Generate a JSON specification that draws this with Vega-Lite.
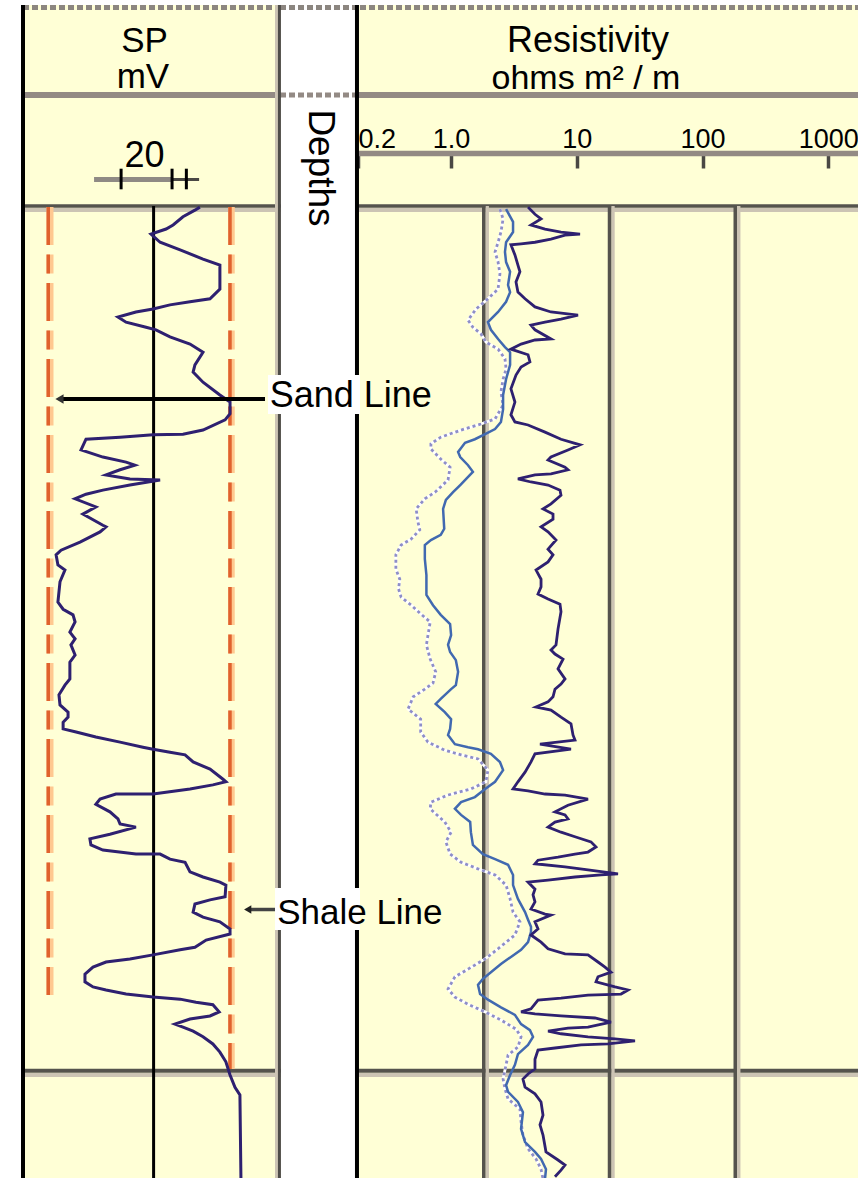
{
"$schema": "https://vega.github.io/schema/vega-lite/v6.json",
"background": "white",
"padding": {"left": 18, "top": 3, "right": 0, "bottom": 0},
"spacing": 0,
"bounds": "flush",
"config": {"view": {"stroke": null}, "text": {"font": "Liberation Sans"}, "axis": {"labelFont": "Liberation Sans"}},
"resolve": {"scale": {"x": "independent", "y": "independent"}},
"datasets": {
"sp": [
{"sp":17.8,"depth":4979.2},{"sp":15.9,"depth":4979.8},{"sp":11.3,"depth":4981.1},{"sp":7.5,"depth":4982.7},{"sp":4.8,"depth":4983.5},{"sp":-1.0,"depth":4984.5},{"sp":2.5,"depth":4986.1},{"sp":10.2,"depth":4987.6},{"sp":19.0,"depth":4989.4},{"sp":25.5,"depth":4990.6},{"sp":25.5,"depth":4995.3},{"sp":21.7,"depth":4997.2},{"sp":14.0,"depth":4997.8},{"sp":6.3,"depth":4998.4},{"sp":-0.2,"depth":4999.2},{"sp":-6.8,"depth":4999.8},{"sp":-13.7,"depth":5000.8},{"sp":-10.6,"depth":5001.8},{"sp":-2.9,"depth":5002.8},{"sp":0.9,"depth":5003.3},{"sp":6.3,"depth":5004.7},{"sp":14.0,"depth":5006.1},{"sp":19.0,"depth":5007.7},{"sp":15.9,"depth":5010.2},{"sp":15.2,"depth":5011.6},{"sp":19.0,"depth":5013.6},{"sp":25.5,"depth":5016.1},{"sp":29.4,"depth":5017.5},{"sp":29.4,"depth":5019.8},{"sp":27.5,"depth":5021.0},{"sp":19.0,"depth":5023.0},{"sp":11.3,"depth":5023.8},{"sp":-0.2,"depth":5023.9},{"sp":-12.9,"depth":5024.4},{"sp":-26.0,"depth":5024.8},{"sp":-27.9,"depth":5026.9},{"sp":-19.5,"depth":5028.3},{"sp":-10.6,"depth":5029.3},{"sp":-7.2,"depth":5029.9},{"sp":-12.9,"depth":5030.8},{"sp":-18.3,"depth":5031.8},{"sp":-9.1,"depth":5032.6},{"sp":2.5,"depth":5032.8},{"sp":-9.1,"depth":5033.8},{"sp":-19.5,"depth":5034.8},{"sp":-26.0,"depth":5035.6},{"sp":-30.2,"depth":5036.5},{"sp":-22.2,"depth":5038.1},{"sp":-27.2,"depth":5039.5},{"sp":-19.5,"depth":5041.7},{"sp":-18.3,"depth":5042.0},{"sp":-20.6,"depth":5043.0},{"sp":-28.3,"depth":5045.0},{"sp":-35.6,"depth":5046.6},{"sp":-37.5,"depth":5047.5},{"sp":-36.8,"depth":5049.5},{"sp":-34.1,"depth":5050.5},{"sp":-36.0,"depth":5052.8},{"sp":-36.8,"depth":5056.8},{"sp":-34.8,"depth":5058.2},{"sp":-31.0,"depth":5059.3},{"sp":-30.2,"depth":5060.7},{"sp":-32.2,"depth":5062.7},{"sp":-30.2,"depth":5064.0},{"sp":-31.8,"depth":5065.2},{"sp":-30.2,"depth":5067.2},{"sp":-32.2,"depth":5068.6},{"sp":-32.2,"depth":5071.9},{"sp":-34.1,"depth":5073.1},{"sp":-36.4,"depth":5075.0},{"sp":-36.0,"depth":5077.0},{"sp":-32.9,"depth":5078.4},{"sp":-32.9,"depth":5079.4},{"sp":-34.8,"depth":5080.4},{"sp":-34.8,"depth":5081.7},{"sp":-29.8,"depth":5082.3},{"sp":-22.2,"depth":5083.3},{"sp":-12.9,"depth":5084.3},{"sp":-4.1,"depth":5085.3},{"sp":-0.2,"depth":5085.7},{"sp":6.3,"depth":5086.3},{"sp":12.1,"depth":5086.8},{"sp":15.2,"depth":5088.2},{"sp":21.7,"depth":5089.6},{"sp":26.7,"depth":5091.6},{"sp":27.8,"depth":5092.1},{"sp":22.8,"depth":5092.7},{"sp":14.0,"depth":5093.5},{"sp":-0.2,"depth":5094.5},{"sp":-14.5,"depth":5094.5},{"sp":-20.6,"depth":5095.5},{"sp":-22.2,"depth":5096.5},{"sp":-16.8,"depth":5098.0},{"sp":-13.7,"depth":5099.4},{"sp":-12.9,"depth":5100.4},{"sp":-6.8,"depth":5101.0},{"sp":-16.8,"depth":5102.4},{"sp":-24.5,"depth":5103.3},{"sp":-24.1,"depth":5104.5},{"sp":-19.5,"depth":5105.5},{"sp":-6.8,"depth":5106.3},{"sp":2.5,"depth":5106.3},{"sp":6.3,"depth":5107.3},{"sp":12.1,"depth":5107.9},{"sp":14.0,"depth":5109.8},{"sp":19.0,"depth":5110.8},{"sp":25.5,"depth":5111.8},{"sp":27.8,"depth":5112.4},{"sp":27.5,"depth":5114.7},{"sp":21.7,"depth":5115.3},{"sp":15.9,"depth":5116.1},{"sp":15.2,"depth":5117.7},{"sp":19.0,"depth":5118.7},{"sp":25.5,"depth":5119.6},{"sp":29.4,"depth":5121.0},{"sp":29.4,"depth":5122.0},{"sp":20.2,"depth":5123.2},{"sp":15.9,"depth":5124.6},{"sp":10.2,"depth":5125.1},{"sp":-0.2,"depth":5126.1},{"sp":-9.1,"depth":5126.9},{"sp":-18.3,"depth":5127.5},{"sp":-23.3,"depth":5128.5},{"sp":-26.4,"depth":5129.9},{"sp":-26.4,"depth":5131.4},{"sp":-23.3,"depth":5132.4},{"sp":-18.3,"depth":5133.0},{"sp":-10.6,"depth":5133.8},{"sp":-0.2,"depth":5134.4},{"sp":10.2,"depth":5134.8},{"sp":16.3,"depth":5135.4},{"sp":22.8,"depth":5135.9},{"sp":25.2,"depth":5137.3},{"sp":21.7,"depth":5138.1},{"sp":14.0,"depth":5138.7},{"sp":8.2,"depth":5139.7},{"sp":11.3,"depth":5140.3},{"sp":15.2,"depth":5141.1},{"sp":19.0,"depth":5142.2},{"sp":22.8,"depth":5143.6},{"sp":25.5,"depth":5145.2},{"sp":27.8,"depth":5147.1},{"sp":29.4,"depth":5149.7},{"sp":31.3,"depth":5152.1},{"sp":33.2,"depth":5153.6},{"sp":33.6,"depth":5170.3}
],
"shallow": [
{"res":4.50,"depth":4979.2},{"res":5.11,"depth":4980.6},{"res":5.71,"depth":4981.5},{"res":4.75,"depth":4982.7},{"res":6.14,"depth":4983.5},{"res":8.23,"depth":4984.1},{"res":11.66,"depth":4984.5},{"res":8.86,"depth":4984.7},{"res":6.85,"depth":4985.5},{"res":5.11,"depth":4986.1},{"res":3.96,"depth":4986.4},{"res":3.29,"depth":4986.6},{"res":3.54,"depth":4988.6},{"res":3.74,"depth":4990.6},{"res":3.88,"depth":4991.9},{"res":3.61,"depth":4993.9},{"res":3.74,"depth":4995.9},{"res":4.26,"depth":4997.2},{"res":5.11,"depth":4998.8},{"res":6.85,"depth":4999.8},{"res":11.24,"depth":5000.4},{"res":8.23,"depth":5001.2},{"res":6.14,"depth":5001.8},{"res":4.75,"depth":5002.4},{"res":5.11,"depth":5003.3},{"res":6.85,"depth":5005.1},{"res":5.11,"depth":5005.3},{"res":3.96,"depth":5006.1},{"res":3.29,"depth":5007.1},{"res":4.50,"depth":5008.2},{"res":4.66,"depth":5009.6},{"res":3.96,"depth":5010.6},{"res":3.61,"depth":5012.2},{"res":3.29,"depth":5014.9},{"res":3.54,"depth":5017.5},{"res":3.29,"depth":5020.0},{"res":3.54,"depth":5021.4},{"res":4.50,"depth":5022.0},{"res":6.14,"depth":5023.4},{"res":8.23,"depth":5024.8},{"res":11.66,"depth":5025.9},{"res":9.35,"depth":5026.9},{"res":6.85,"depth":5028.3},{"res":6.49,"depth":5028.9},{"res":8.86,"depth":5030.3},{"res":9.35,"depth":5030.8},{"res":6.85,"depth":5031.6},{"res":5.11,"depth":5031.8},{"res":3.74,"depth":5032.6},{"res":4.75,"depth":5033.2},{"res":6.49,"depth":5033.8},{"res":8.08,"depth":5034.8},{"res":8.23,"depth":5035.8},{"res":6.85,"depth":5037.5},{"res":5.92,"depth":5038.5},{"res":7.11,"depth":5039.5},{"res":7.11,"depth":5040.5},{"res":5.71,"depth":5042.0},{"res":6.49,"depth":5043.0},{"res":7.51,"depth":5044.6},{"res":6.49,"depth":5046.4},{"res":7.11,"depth":5047.5},{"res":6.49,"depth":5048.9},{"res":5.21,"depth":5050.5},{"res":5.71,"depth":5052.3},{"res":5.71,"depth":5053.8},{"res":5.40,"depth":5055.2},{"res":6.49,"depth":5056.2},{"res":8.08,"depth":5057.2},{"res":8.23,"depth":5058.7},{"res":7.79,"depth":5062.1},{"res":7.51,"depth":5065.2},{"res":6.85,"depth":5066.2},{"res":7.37,"depth":5067.0},{"res":8.54,"depth":5068.0},{"res":7.79,"depth":5069.9},{"res":8.86,"depth":5071.9},{"res":8.23,"depth":5072.9},{"res":7.37,"depth":5073.9},{"res":7.11,"depth":5075.4},{"res":6.49,"depth":5076.4},{"res":5.21,"depth":5077.4},{"res":6.85,"depth":5078.0},{"res":8.23,"depth":5079.4},{"res":9.88,"depth":5080.7},{"res":10.25,"depth":5082.9},{"res":10.63,"depth":5083.9},{"res":5.60,"depth":5084.7},{"res":9.88,"depth":5085.7},{"res":5.11,"depth":5086.6},{"res":4.75,"depth":5088.2},{"res":4.26,"depth":5090.2},{"res":3.74,"depth":5092.1},{"res":3.42,"depth":5093.5},{"res":4.50,"depth":5093.9},{"res":6.14,"depth":5094.5},{"res":8.86,"depth":5094.7},{"res":13.49,"depth":5095.5},{"res":9.35,"depth":5096.7},{"res":7.37,"depth":5098.0},{"res":8.86,"depth":5098.6},{"res":9.35,"depth":5099.4},{"res":7.37,"depth":5100.0},{"res":6.49,"depth":5101.0},{"res":8.23,"depth":5102.0},{"res":10.63,"depth":5102.9},{"res":14.25,"depth":5103.9},{"res":15.62,"depth":5104.9},{"res":13.49,"depth":5105.9},{"res":10.63,"depth":5106.3},{"res":7.79,"depth":5106.9},{"res":5.40,"depth":5107.5},{"res":5.11,"depth":5108.2},{"res":8.86,"depth":5108.8},{"res":13.49,"depth":5109.4},{"res":23.37,"depth":5110.2},{"res":17.12,"depth":5110.4},{"res":10.63,"depth":5110.8},{"res":6.49,"depth":5111.4},{"res":4.50,"depth":5111.8},{"res":5.11,"depth":5113.2},{"res":4.93,"depth":5114.3},{"res":5.11,"depth":5115.7},{"res":4.75,"depth":5117.1},{"res":6.14,"depth":5118.1},{"res":6.85,"depth":5118.3},{"res":5.11,"depth":5119.6},{"res":5.40,"depth":5121.0},{"res":4.75,"depth":5122.2},{"res":5.71,"depth":5123.6},{"res":6.49,"depth":5124.9},{"res":8.86,"depth":5125.9},{"res":13.49,"depth":5126.1},{"res":16.20,"depth":5127.5},{"res":18.42,"depth":5128.5},{"res":20.56,"depth":5129.5},{"res":16.20,"depth":5130.4},{"res":15.62,"depth":5131.4},{"res":22.12,"depth":5132.4},{"res":28.07,"depth":5133.0},{"res":24.69,"depth":5133.8},{"res":13.49,"depth":5134.0},{"res":8.23,"depth":5134.6},{"res":5.40,"depth":5135.0},{"res":4.75,"depth":5136.7},{"res":3.96,"depth":5137.3},{"res":5.11,"depth":5137.7},{"res":8.23,"depth":5138.1},{"res":15.33,"depth":5138.5},{"res":20.56,"depth":5139.3},{"res":13.49,"depth":5140.3},{"res":9.35,"depth":5140.5},{"res":6.49,"depth":5141.1},{"res":8.23,"depth":5141.6},{"res":13.49,"depth":5142.2},{"res":22.12,"depth":5142.6},{"res":31.90,"depth":5143.0},{"res":19.46,"depth":5143.6},{"res":11.87,"depth":5143.8},{"res":7.37,"depth":5144.4},{"res":5.40,"depth":5144.8},{"res":5.11,"depth":5146.6},{"res":5.11,"depth":5148.5},{"res":4.50,"depth":5149.5},{"res":4.10,"depth":5150.5},{"res":4.26,"depth":5152.1},{"res":5.11,"depth":5153.4},{"res":5.71,"depth":5155.0},{"res":5.92,"depth":5157.6},{"res":5.60,"depth":5159.5},{"res":5.92,"depth":5161.5},{"res":6.25,"depth":5164.8},{"res":7.79,"depth":5166.4},{"res":8.86,"depth":5167.4},{"res":8.23,"depth":5168.4},{"res":7.37,"depth":5169.7}
],
"medium": [
{"res":3.01,"depth":4979.6},{"res":3.42,"depth":4982.1},{"res":3.42,"depth":4984.1},{"res":3.01,"depth":4986.1},{"res":2.95,"depth":4988.0},{"res":3.01,"depth":4990.0},{"res":3.24,"depth":4991.9},{"res":3.12,"depth":4994.5},{"res":3.24,"depth":4995.9},{"res":3.01,"depth":4997.8},{"res":2.60,"depth":4999.8},{"res":2.16,"depth":5001.8},{"res":2.28,"depth":5003.3},{"res":2.60,"depth":5005.1},{"res":2.95,"depth":5006.7},{"res":3.24,"depth":5007.7},{"res":3.24,"depth":5010.2},{"res":3.01,"depth":5013.0},{"res":2.85,"depth":5016.1},{"res":2.85,"depth":5018.9},{"res":2.74,"depth":5021.4},{"res":2.46,"depth":5022.8},{"res":2.05,"depth":5023.8},{"res":1.70,"depth":5024.8},{"res":1.42,"depth":5025.5},{"res":1.25,"depth":5027.3},{"res":1.30,"depth":5028.3},{"res":1.50,"depth":5029.9},{"res":1.64,"depth":5031.2},{"res":1.45,"depth":5032.6},{"res":1.30,"depth":5033.8},{"res":1.14,"depth":5035.2},{"res":1.00,"depth":5036.7},{"res":0.95,"depth":5038.5},{"res":0.97,"depth":5042.4},{"res":0.91,"depth":5043.6},{"res":0.76,"depth":5044.6},{"res":0.68,"depth":5045.6},{"res":0.68,"depth":5048.3},{"res":0.70,"depth":5051.5},{"res":0.70,"depth":5054.2},{"res":0.70,"depth":5055.4},{"res":0.79,"depth":5057.4},{"res":0.91,"depth":5059.3},{"res":1.08,"depth":5061.1},{"res":1.10,"depth":5063.3},{"res":1.04,"depth":5065.2},{"res":1.08,"depth":5066.6},{"res":1.20,"depth":5068.2},{"res":1.25,"depth":5070.5},{"res":1.20,"depth":5073.1},{"res":1.10,"depth":5073.9},{"res":0.91,"depth":5075.8},{"res":0.83,"depth":5076.8},{"res":0.98,"depth":5078.4},{"res":1.10,"depth":5079.8},{"res":1.08,"depth":5081.7},{"res":1.04,"depth":5082.9},{"res":1.18,"depth":5084.7},{"res":1.50,"depth":5085.3},{"res":1.80,"depth":5085.7},{"res":2.28,"depth":5086.6},{"res":2.69,"depth":5088.2},{"res":2.85,"depth":5089.8},{"res":2.46,"depth":5092.1},{"res":2.05,"depth":5093.5},{"res":1.70,"depth":5095.1},{"res":1.32,"depth":5096.1},{"res":1.18,"depth":5097.4},{"res":1.32,"depth":5098.6},{"res":1.56,"depth":5100.0},{"res":1.58,"depth":5102.0},{"res":1.64,"depth":5104.5},{"res":1.97,"depth":5106.3},{"res":2.46,"depth":5107.3},{"res":3.12,"depth":5108.4},{"res":3.42,"depth":5110.4},{"res":3.42,"depth":5112.4},{"res":3.74,"depth":5115.1},{"res":4.26,"depth":5117.7},{"res":4.50,"depth":5119.2},{"res":4.75,"depth":5120.6},{"res":4.75,"depth":5121.6},{"res":4.50,"depth":5123.6},{"res":3.96,"depth":5125.1},{"res":3.29,"depth":5126.5},{"res":2.74,"depth":5127.9},{"res":2.28,"depth":5129.5},{"res":1.97,"depth":5130.8},{"res":1.80,"depth":5132.0},{"res":1.87,"depth":5133.8},{"res":2.16,"depth":5134.9},{"res":2.74,"depth":5136.4},{"res":3.54,"depth":5137.9},{"res":3.96,"depth":5139.7},{"res":4.66,"depth":5140.9},{"res":4.93,"depth":5142.2},{"res":4.50,"depth":5143.8},{"res":3.74,"depth":5145.6},{"res":3.54,"depth":5147.7},{"res":3.24,"depth":5149.7},{"res":3.01,"depth":5151.7},{"res":3.12,"depth":5153.0},{"res":3.74,"depth":5155.0},{"res":4.10,"depth":5157.0},{"res":3.96,"depth":5160.3},{"res":4.26,"depth":5162.9},{"res":5.11,"depth":5164.8},{"res":5.71,"depth":5166.2},{"res":6.25,"depth":5168.2},{"res":6.14,"depth":5170.1}
],
"deep": [
{"res":2.69,"depth":4979.6},{"res":2.85,"depth":4981.5},{"res":2.74,"depth":4984.1},{"res":2.60,"depth":4986.1},{"res":2.46,"depth":4988.0},{"res":2.60,"depth":4990.0},{"res":2.69,"depth":4992.3},{"res":2.60,"depth":4995.3},{"res":2.16,"depth":4997.2},{"res":1.74,"depth":4999.2},{"res":1.50,"depth":5001.4},{"res":1.64,"depth":5002.8},{"res":1.90,"depth":5004.1},{"res":2.08,"depth":5005.7},{"res":2.60,"depth":5007.1},{"res":2.95,"depth":5009.0},{"res":3.01,"depth":5011.0},{"res":2.85,"depth":5013.0},{"res":2.74,"depth":5015.5},{"res":2.85,"depth":5018.1},{"res":2.46,"depth":5020.8},{"res":1.90,"depth":5021.8},{"res":1.32,"depth":5023.0},{"res":0.91,"depth":5024.4},{"res":0.76,"depth":5025.7},{"res":0.76,"depth":5026.7},{"res":0.91,"depth":5028.7},{"res":1.08,"depth":5030.3},{"res":1.04,"depth":5032.8},{"res":0.82,"depth":5035.2},{"res":0.68,"depth":5036.5},{"res":0.58,"depth":5038.5},{"res":0.60,"depth":5041.1},{"res":0.62,"depth":5042.6},{"res":0.53,"depth":5044.4},{"res":0.44,"depth":5045.6},{"res":0.40,"depth":5047.5},{"res":0.40,"depth":5050.3},{"res":0.43,"depth":5052.3},{"res":0.42,"depth":5054.2},{"res":0.44,"depth":5055.8},{"res":0.53,"depth":5057.4},{"res":0.63,"depth":5059.1},{"res":0.75,"depth":5060.7},{"res":0.72,"depth":5063.3},{"res":0.70,"depth":5065.2},{"res":0.75,"depth":5068.0},{"res":0.83,"depth":5070.5},{"res":0.79,"depth":5072.7},{"res":0.68,"depth":5073.9},{"res":0.55,"depth":5075.4},{"res":0.50,"depth":5077.8},{"res":0.63,"depth":5079.8},{"res":0.63,"depth":5082.3},{"res":0.72,"depth":5084.3},{"res":0.98,"depth":5085.9},{"res":1.32,"depth":5086.8},{"res":1.80,"depth":5087.6},{"res":2.16,"depth":5089.8},{"res":2.08,"depth":5092.1},{"res":1.58,"depth":5093.5},{"res":1.04,"depth":5094.7},{"res":0.76,"depth":5096.1},{"res":0.75,"depth":5097.4},{"res":0.98,"depth":5100.0},{"res":1.10,"depth":5102.0},{"res":1.00,"depth":5103.9},{"res":1.08,"depth":5106.3},{"res":1.32,"depth":5107.9},{"res":1.80,"depth":5109.2},{"res":2.46,"depth":5110.4},{"res":3.01,"depth":5112.4},{"res":3.24,"depth":5115.1},{"res":3.42,"depth":5117.7},{"res":3.88,"depth":5119.6},{"res":3.54,"depth":5122.2},{"res":2.60,"depth":5124.9},{"res":2.05,"depth":5126.9},{"res":1.50,"depth":5128.9},{"res":1.18,"depth":5130.4},{"res":1.04,"depth":5132.8},{"res":1.18,"depth":5134.4},{"res":1.50,"depth":5135.8},{"res":2.05,"depth":5137.3},{"res":2.74,"depth":5138.9},{"res":3.61,"depth":5140.7},{"res":3.96,"depth":5142.2},{"res":3.74,"depth":5144.2},{"res":3.12,"depth":5145.8},{"res":3.01,"depth":5147.7},{"res":2.85,"depth":5150.5},{"res":2.95,"depth":5152.4},{"res":3.12,"depth":5154.4},{"res":3.88,"depth":5156.4},{"res":3.96,"depth":5158.9},{"res":4.10,"depth":5161.5},{"res":4.50,"depth":5164.2},{"res":5.21,"depth":5166.2},{"res":5.71,"depth":5168.2},{"res":5.92,"depth":5170.1}
]
},
"hconcat": [
{
"width": 260, "height": 1175,
"view": {"fill": "#FFFFD6", "stroke": null},
"data": {"values": [{}]},
"layer": [
{"mark": {"type": "rule", "color": "#8C8680", "strokeWidth": 5, "strokeDash": [6, 3]},
 "encoding": {"y": {"datum": 4939.98, "type": "quantitative", "scale": {"domain": [4939.49, 5170.33], "reverse": true, "nice": false, "zero": false},
   "axis": {"values": [5000, 5050, 5100], "grid": true, "gridColor": "#948C86", "gridWidth": 6, "labels": false, "ticks": false, "domain": false, "title": null}}}},
{"mark": {"type": "rule", "color": "#938A84", "strokeWidth": 6}, "encoding": {"y": {"datum": 4957.17, "type": "quantitative", "axis": null}}},
{"mark": {"type": "rule", "color": "#CCC4B4", "strokeWidth": 4}, "encoding": {"y": {"datum": 4979.74, "type": "quantitative", "axis": null}}},
{"mark": {"type": "rule", "color": "#55534D", "strokeWidth": 3.5}, "encoding": {"y": {"datum": 4978.98, "type": "quantitative", "axis": null}}},
{"mark": {"type": "rule", "color": "#CCC4B4", "strokeWidth": 4}, "encoding": {"y": {"datum": 5149.7, "type": "quantitative", "axis": null}}},
{"mark": {"type": "rule", "color": "#55534D", "strokeWidth": 4}, "encoding": {"y": {"datum": 5148.88, "type": "quantitative", "axis": null}}},
{"mark": {"type": "rule", "color": "black", "strokeWidth": 4},
 "encoding": {"x": {"datum": -50.23, "type": "quantitative", "scale": {"domain": [-51, 49], "nice": false, "zero": false}, "axis": null},
   "y": {"datum": 4939.49, "type": "quantitative", "axis": null}, "y2": {"datum": 5170.33}}},
{"mark": {"type": "rule", "color": "black", "strokeWidth": 3},
 "encoding": {"x": {"datum": 0, "type": "quantitative", "axis": null}, "y": {"datum": 4978.98, "type": "quantitative", "axis": null}, "y2": {"datum": 5170.33}}},
{"mark": {"type": "rule", "color": "#CCC4B4", "strokeWidth": 3},
 "encoding": {"x": {"datum": 47.27, "type": "quantitative", "axis": null}, "y": {"datum": 4939.49, "type": "quantitative", "axis": null}, "y2": {"datum": 5170.33}}},
{"mark": {"type": "rule", "color": "#4E4C48", "strokeWidth": 3},
 "encoding": {"x": {"datum": 48.4, "type": "quantitative", "axis": null}, "y": {"datum": 4939.49, "type": "quantitative", "axis": null}, "y2": {"datum": 5170.33}}},
{"mark": {"type": "rule", "color": "#FFC890", "strokeWidth": 7, "strokeDash": [38, 9.5, 19, 9.5]},
 "encoding": {"x": {"datum": -39.85, "type": "quantitative", "axis": null}, "y": {"datum": 4979.17, "type": "quantitative", "axis": null}, "y2": {"datum": 5133.99}}},
{"mark": {"type": "rule", "color": "#E0622E", "strokeWidth": 3.5, "strokeDash": [38, 9.5, 19, 9.5]},
 "encoding": {"x": {"datum": -40.52, "type": "quantitative", "axis": null}, "y": {"datum": 4979.17, "type": "quantitative", "axis": null}, "y2": {"datum": 5133.99}}},
{"mark": {"type": "rule", "color": "#FFC890", "strokeWidth": 6.5, "strokeDash": [38, 9.5, 19, 9.5]},
 "encoding": {"x": {"datum": 29.96, "type": "quantitative", "axis": null}, "y": {"datum": 4979.17, "type": "quantitative", "axis": null}, "y2": {"datum": 5148.5}}},
{"mark": {"type": "rule", "color": "#E0622E", "strokeWidth": 3.5, "strokeDash": [38, 9.5, 19, 9.5]},
 "encoding": {"x": {"datum": 29.38, "type": "quantitative", "axis": null}, "y": {"datum": 4979.17, "type": "quantitative", "axis": null}, "y2": {"datum": 5148.5}}},
{"mark": {"type": "rule", "color": "#8F8A84", "strokeWidth": 5},
 "encoding": {"x": {"datum": -22.9, "type": "quantitative", "axis": null}, "x2": {"datum": 7.1}, "y": {"datum": 4973.77, "type": "quantitative", "axis": null}}},
{"mark": {"type": "rule", "color": "#4A4844", "strokeWidth": 3},
 "encoding": {"x": {"datum": 7.1, "type": "quantitative", "axis": null}, "x2": {"datum": 17.5}, "y": {"datum": 4973.77, "type": "quantitative", "axis": null}}},
{"mark": {"type": "rule", "color": "black", "strokeWidth": 3},
 "encoding": {"x": {"datum": -12.5, "type": "quantitative", "axis": null}, "y": {"datum": 4971.65, "type": "quantitative", "axis": null}, "y2": {"datum": 4975.7}}},
{"mark": {"type": "rule", "color": "black", "strokeWidth": 3},
 "encoding": {"x": {"datum": 7.1, "type": "quantitative", "axis": null}, "y": {"datum": 4971.65, "type": "quantitative", "axis": null}, "y2": {"datum": 4975.7}}},
{"mark": {"type": "rule", "color": "black", "strokeWidth": 3},
 "encoding": {"x": {"datum": 12.6, "type": "quantitative", "axis": null}, "y": {"datum": 4971.65, "type": "quantitative", "axis": null}, "y2": {"datum": 4975.7}}},
{"data": {"name": "sp"}, "mark": {"type": "line", "color": "#2E2070", "strokeWidth": 3},
 "encoding": {"x": {"field": "sp", "type": "quantitative", "axis": null}, "y": {"field": "depth", "type": "quantitative", "axis": null}, "order": {"value": null}}},
{"mark": {"type": "text", "text": "SP", "fontSize": 35, "align": "center", "baseline": "alphabetic", "color": "black"},
 "encoding": {"x": {"datum": -3.5, "type": "quantitative", "axis": null}, "y": {"datum": 4948.72, "type": "quantitative", "axis": null}}},
{"mark": {"type": "text", "text": "mV", "fontSize": 35, "align": "center", "baseline": "alphabetic", "color": "black"},
 "encoding": {"x": {"datum": -4.1, "type": "quantitative", "axis": null}, "y": {"datum": 4955.8, "type": "quantitative", "axis": null}}},
{"mark": {"type": "text", "text": "20", "fontSize": 36, "align": "center", "baseline": "alphabetic", "color": "black"},
 "encoding": {"x": {"datum": -3.5, "type": "quantitative", "axis": null}, "y": {"datum": 4971.32, "type": "quantitative", "axis": null}}},
{"mark": {"type": "rule", "color": "black", "strokeWidth": 4},
 "encoding": {"x": {"datum": -35.6, "type": "quantitative", "axis": null}, "x2": {"datum": 42.85}, "y": {"datum": 5016.89, "type": "quantitative", "axis": null}}},
{"mark": {"type": "point", "shape": "triangle-left", "filled": true, "color": "#333333", "size": 90, "opacity": 1},
 "encoding": {"x": {"datum": -36.2, "type": "quantitative", "axis": null}, "y": {"datum": 5016.89, "type": "quantitative", "axis": null}}},
{"mark": {"type": "rule", "color": "#444444", "strokeWidth": 3.5},
 "encoding": {"x": {"datum": 37.08, "type": "quantitative", "axis": null}, "x2": {"datum": 46.7}, "y": {"datum": 5117.19, "type": "quantitative", "axis": null}}},
{"mark": {"type": "point", "shape": "triangle-left", "filled": true, "color": "#222222", "size": 70, "opacity": 1},
 "encoding": {"x": {"datum": 36.2, "type": "quantitative", "axis": null}, "y": {"datum": 5117.19, "type": "quantitative", "axis": null}}}
]
},
{
"width": 77, "height": 1175,
"view": {"fill": "white", "stroke": null},
"data": {"values": [{}]},
"layer": [
{"mark": {"type": "rule", "color": "#8C8680", "strokeWidth": 5, "strokeDash": [6, 3]},
 "encoding": {"y": {"datum": 4939.98, "type": "quantitative", "scale": {"domain": [4939.49, 5170.33], "reverse": true, "nice": false, "zero": false}, "axis": null}}},
{"mark": {"type": "rule", "color": "#938A84", "strokeWidth": 5, "strokeDash": [6, 3]}, "encoding": {"y": {"datum": 4957.17, "type": "quantitative", "axis": null}}},
{"mark": {"type": "text", "text": "Depths", "angle": 90, "fontSize": 37, "align": "center", "baseline": "middle", "color": "black"},
 "encoding": {"y": {"datum": 4971.51, "type": "quantitative", "axis": null}}}
]
},
{
"width": 503, "height": 1175,
"view": {"fill": "#FFFFD6", "stroke": null},
"data": {"values": [{}]},
"layer": [
{"mark": {"type": "rule", "color": "#8C8680", "strokeWidth": 5, "strokeDash": [6, 3]},
 "encoding": {"y": {"datum": 4939.98, "type": "quantitative", "scale": {"domain": [4939.49, 5170.33], "reverse": true, "nice": false, "zero": false},
   "axis": {"values": [5000, 5050, 5100], "grid": true, "gridColor": "#948C86", "gridWidth": 6, "labels": false, "ticks": false, "domain": false, "title": null}}}},
{"mark": {"type": "rule", "color": "#938A84", "strokeWidth": 6}, "encoding": {"y": {"datum": 4957.17, "type": "quantitative", "axis": null}}},
{"mark": {"type": "rule", "color": "#CCC4B4", "strokeWidth": 4}, "encoding": {"y": {"datum": 4979.74, "type": "quantitative", "axis": null}}},
{"mark": {"type": "rule", "color": "#55534D", "strokeWidth": 3.5}, "encoding": {"y": {"datum": 4978.98, "type": "quantitative", "axis": null}}},
{"mark": {"type": "rule", "color": "#CCC4B4", "strokeWidth": 4}, "encoding": {"y": {"datum": 5149.7, "type": "quantitative", "axis": null}}},
{"mark": {"type": "rule", "color": "#55534D", "strokeWidth": 4}, "encoding": {"y": {"datum": 5148.88, "type": "quantitative", "axis": null}}},
{"mark": {"type": "rule", "color": "black", "strokeWidth": 4},
 "encoding": {"x": {"datum": 0.1963, "type": "quantitative", "scale": {"type": "log", "domain": [0.2, 2000], "nice": false},
   "axis": {"orient": "top", "offset": -148, "values": [0.2, 1.1, 11, 110, 1100],
     "labelExpr": "datum.value < 0.5 ? '0.2' : datum.value < 5 ? '1.0' : datum.value < 50 ? '10' : datum.value < 500 ? '100' : '1000'",
     "domainColor": "#938A84", "domainWidth": 5.5, "tickColor": "#4A4844", "tickWidth": 3.5, "tickSize": -15,
     "labelPadding": 21, "labelFontSize": 27, "labelColor": "black", "labelFlush": true, "labelOverlap": false,
     "labelBaseline": "alphabetic", "grid": false, "title": null}},
   "y": {"datum": 4939.49, "type": "quantitative", "axis": null}, "y2": {"datum": 5170.33}}},
{"mark": {"type": "rule", "color": "#8A8680", "strokeWidth": 3},
 "encoding": {"x": {"datum": 1945.8, "type": "quantitative"}, "y": {"datum": 4939.49, "type": "quantitative", "axis": null}, "y2": {"datum": 5170.33}}},
{"mark": {"type": "rule", "color": "#CCC4B4", "strokeWidth": 3.5},
 "encoding": {"x": {"datum": 2.13, "type": "quantitative"}, "y": {"datum": 4978.98, "type": "quantitative", "axis": null}, "y2": {"datum": 5170.33}}},
{"mark": {"type": "rule", "color": "#CCC4B4", "strokeWidth": 3.5},
 "encoding": {"x": {"datum": 21.3, "type": "quantitative"}, "y": {"datum": 4978.98, "type": "quantitative", "axis": null}, "y2": {"datum": 5170.33}}},
{"mark": {"type": "rule", "color": "#CCC4B4", "strokeWidth": 3.5},
 "encoding": {"x": {"datum": 213, "type": "quantitative"}, "y": {"datum": 4978.98, "type": "quantitative", "axis": null}, "y2": {"datum": 5170.33}}},
{"mark": {"type": "rule", "color": "#55534D", "strokeWidth": 3.5},
 "encoding": {"x": {"datum": 2, "type": "quantitative"}, "y": {"datum": 4978.98, "type": "quantitative", "axis": null}, "y2": {"datum": 5170.33}}},
{"mark": {"type": "rule", "color": "#55534D", "strokeWidth": 3.5},
 "encoding": {"x": {"datum": 20, "type": "quantitative"}, "y": {"datum": 4978.98, "type": "quantitative", "axis": null}, "y2": {"datum": 5170.33}}},
{"mark": {"type": "rule", "color": "#55534D", "strokeWidth": 3.5},
 "encoding": {"x": {"datum": 200, "type": "quantitative"}, "y": {"datum": 4978.98, "type": "quantitative", "axis": null}, "y2": {"datum": 5170.33}}},
{"data": {"name": "deep"}, "mark": {"type": "line", "color": "white", "strokeWidth": 2.8},
 "encoding": {"x": {"field": "res", "type": "quantitative"}, "y": {"field": "depth", "type": "quantitative", "axis": null}, "order": {"value": null}}},
{"data": {"name": "deep"}, "mark": {"type": "line", "color": "#8E8EC8", "strokeWidth": 2.8, "strokeDash": [3, 3]},
 "encoding": {"x": {"field": "res", "type": "quantitative"}, "y": {"field": "depth", "type": "quantitative", "axis": null}, "order": {"value": null}}},
{"data": {"name": "medium"}, "mark": {"type": "line", "color": "#4169B0", "strokeWidth": 2.5},
 "encoding": {"x": {"field": "res", "type": "quantitative"}, "y": {"field": "depth", "type": "quantitative", "axis": null}, "order": {"value": null}}},
{"data": {"name": "shallow"}, "mark": {"type": "line", "color": "#2E2070", "strokeWidth": 2.8},
 "encoding": {"x": {"field": "res", "type": "quantitative"}, "y": {"field": "depth", "type": "quantitative", "axis": null}, "order": {"value": null}}},
{"mark": {"type": "text", "text": "Resistivity", "fontSize": 36, "align": "center", "baseline": "alphabetic", "color": "black"},
 "encoding": {"x": {"datum": 13.49, "type": "quantitative"}, "y": {"datum": 4948.72, "type": "quantitative", "axis": null}}},
{"mark": {"type": "text", "text": "ohms m² / m", "fontSize": 34, "align": "center", "baseline": "alphabetic", "color": "black"},
 "encoding": {"x": {"datum": 13.0, "type": "quantitative"}, "y": {"datum": 4956.0, "type": "quantitative", "axis": null}}},
{"mark": {"type": "rect", "color": "white"},
 "encoding": {"x": {"datum": 0.03849, "type": "quantitative"}, "x2": {"datum": 0.2075}, "y": {"datum": 5012.18, "type": "quantitative", "axis": null}, "y2": {"datum": 5019.84}}},
{"mark": {"type": "rect", "color": "white"},
 "encoding": {"x": {"datum": 0.04375, "type": "quantitative"}, "x2": {"datum": 0.2075}, "y": {"datum": 5112.96, "type": "quantitative", "axis": null}, "y2": {"datum": 5121.21}}},
{"mark": {"type": "text", "text": "Sand Line", "fontSize": 36, "align": "left", "baseline": "alphabetic", "color": "black"},
 "encoding": {"x": {"datum": 0.0397, "type": "quantitative"}, "y": {"datum": 5018.47, "type": "quantitative", "axis": null}}},
{"mark": {"type": "text", "text": "Shale Line", "fontSize": 35, "align": "left", "baseline": "alphabetic", "color": "black"},
 "encoding": {"x": {"datum": 0.0455, "type": "quantitative"}, "y": {"datum": 5119.98, "type": "quantitative", "axis": null}}}
]
}
]
}
